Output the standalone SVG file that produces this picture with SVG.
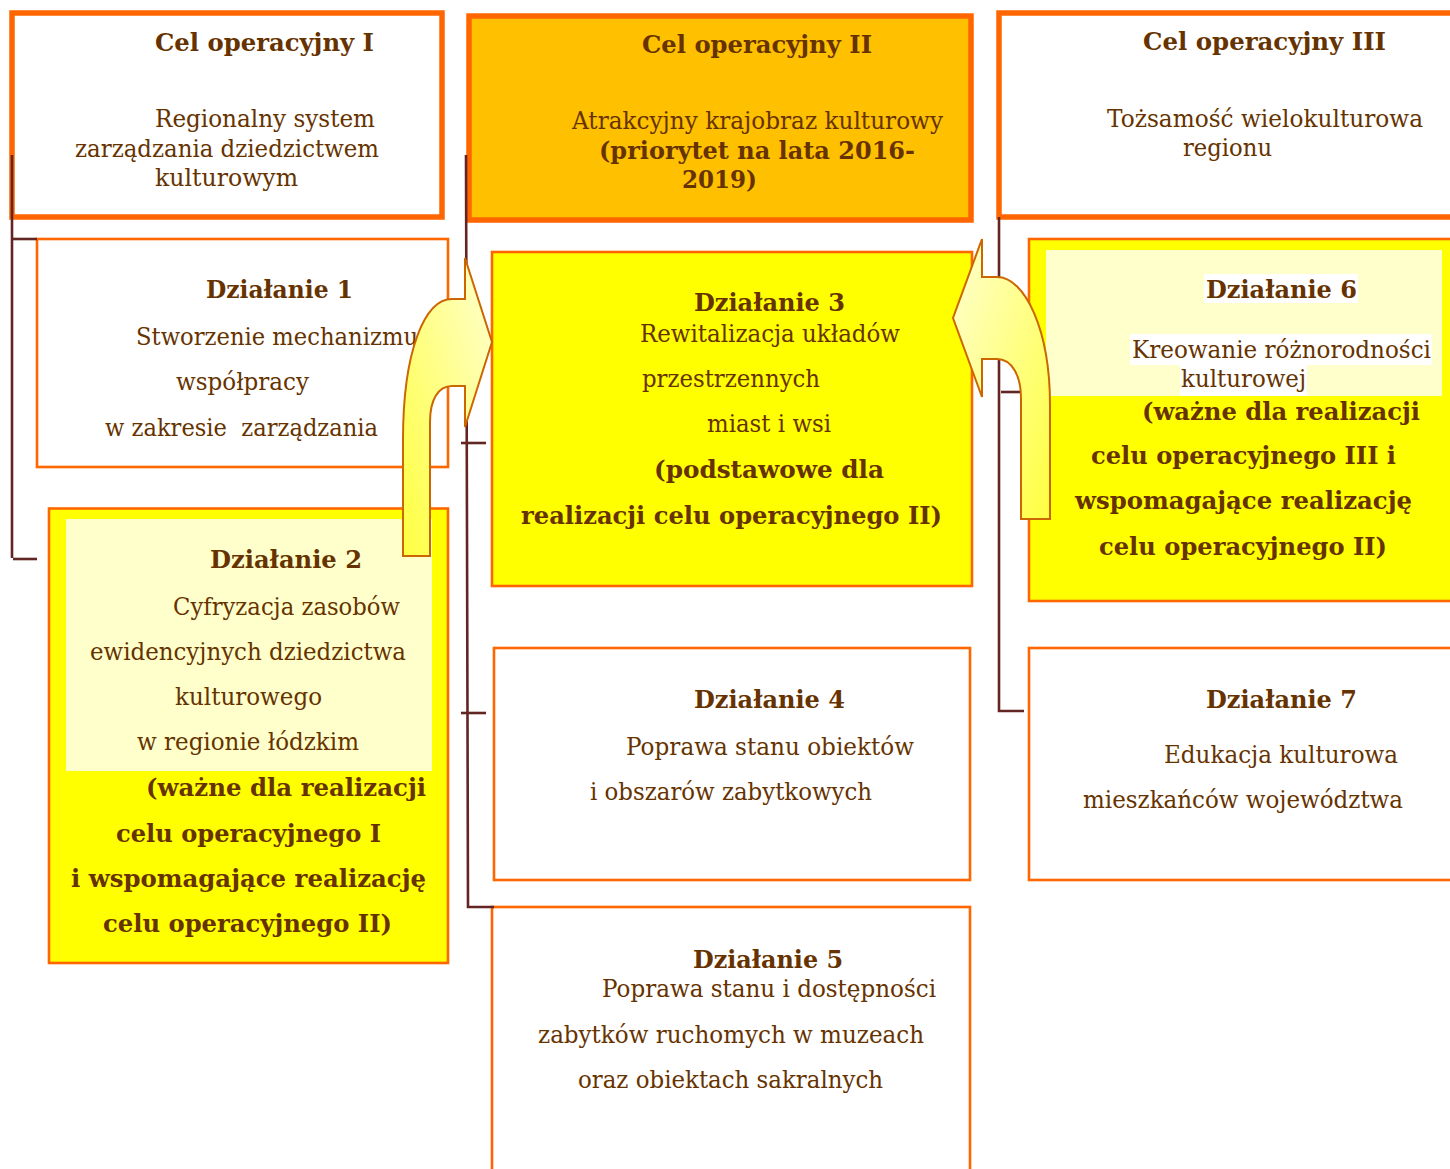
<svg xmlns="http://www.w3.org/2000/svg" width="1450" height="1169" viewBox="0 0 1450 1169">
<style>
.cel{stroke:#FF6600;stroke-width:5.5}
.act{stroke:#FF6600;stroke-width:2.6}
.t{font-family:"DejaVu Serif","Liberation Serif",serif;font-size:24px;fill:#663300}
.b{font-weight:bold}
.con{stroke:#632523;stroke-width:2.6;fill:none}
.arr{stroke:#CC6600;stroke-width:2}
</style>
<defs>
<linearGradient id="gL" x1="0" y1="1" x2="1" y2="0">
<stop offset="0" stop-color="#FFFF40"/>
<stop offset="1" stop-color="#FFFFD0"/>
</linearGradient>
<linearGradient id="gR" x1="1" y1="1" x2="0" y2="0">
<stop offset="0" stop-color="#FFFF40"/>
<stop offset="1" stop-color="#FFFFD0"/>
</linearGradient>
</defs>
<rect width="1450" height="1169" fill="#FFFFFF"/>

<g id="cel1">
<rect class="cel" x="12" y="13" width="430" height="204" fill="#FFFFFF"/>
<text class="t b" x="155" y="51" textLength="219" lengthAdjust="spacingAndGlyphs">Cel operacyjny I</text>
<text class="t" x="155" y="127" textLength="220" lengthAdjust="spacingAndGlyphs">Regionalny system</text>
<text class="t" x="75" y="157" textLength="304" lengthAdjust="spacingAndGlyphs">zarządzania dziedzictwem</text>
<text class="t" x="155" y="186" textLength="143" lengthAdjust="spacingAndGlyphs">kulturowym</text>
</g>

<g id="cel2">
<rect class="cel" x="469" y="16" width="502" height="204" fill="#FFC000"/>
<text class="t b" x="642" y="53" textLength="230" lengthAdjust="spacingAndGlyphs">Cel operacyjny II</text>
<text class="t" x="572" y="129" textLength="371" lengthAdjust="spacingAndGlyphs">Atrakcyjny krajobraz kulturowy</text>
<text class="t b" x="599" y="159" textLength="316" lengthAdjust="spacingAndGlyphs">(priorytet na lata 2016-</text>
<text class="t b" x="682" y="188" textLength="75" lengthAdjust="spacingAndGlyphs">2019)</text>
</g>

<g id="cel3">
<rect class="cel" x="999" y="13" width="470" height="204" fill="#FFFFFF"/>
<text class="t b" x="1143" y="50" textLength="243" lengthAdjust="spacingAndGlyphs">Cel operacyjny III</text>
<text class="t" x="1107" y="127" textLength="316" lengthAdjust="spacingAndGlyphs">Tożsamość wielokulturowa</text>
<text class="t" x="1183" y="156" textLength="89" lengthAdjust="spacingAndGlyphs">regionu</text>
</g>

<g id="dzialanie1">
<rect class="act" x="37" y="239" width="411" height="228" fill="#FFFFFF"/>
<text class="t b" x="206" y="298" textLength="147" lengthAdjust="spacingAndGlyphs">Działanie 1</text>
<text class="t" x="136" y="345" textLength="282" lengthAdjust="spacingAndGlyphs">Stworzenie mechanizmu</text>
<text class="t" x="176" y="390" textLength="133" lengthAdjust="spacingAndGlyphs">współpracy</text>
<text class="t" x="105" y="436" textLength="273" lengthAdjust="spacingAndGlyphs" xml:space="preserve">w zakresie  zarządzania</text>
</g>

<g id="dzialanie2">
<rect class="act" x="49" y="508.5" width="399" height="454.5" fill="#FFFF00"/>
<rect x="66" y="519" width="366" height="252" fill="#FFFFCC"/>
<text class="t b" x="210" y="568" textLength="152" lengthAdjust="spacingAndGlyphs">Działanie 2</text>
<text class="t" x="173" y="615" textLength="227" lengthAdjust="spacingAndGlyphs">Cyfryzacja zasobów</text>
<text class="t" x="90" y="660" textLength="316" lengthAdjust="spacingAndGlyphs">ewidencyjnych dziedzictwa</text>
<text class="t" x="175" y="705" textLength="147" lengthAdjust="spacingAndGlyphs">kulturowego</text>
<text class="t" x="137" y="750" textLength="222" lengthAdjust="spacingAndGlyphs">w regionie łódzkim</text>
<text class="t b" x="146" y="796" textLength="280" lengthAdjust="spacingAndGlyphs">(ważne dla realizacji</text>
<text class="t b" x="116" y="842" textLength="265" lengthAdjust="spacingAndGlyphs">celu operacyjnego I</text>
<text class="t b" x="71" y="887" textLength="355" lengthAdjust="spacingAndGlyphs">i wspomagające realizację</text>
<text class="t b" x="103" y="932" textLength="289" lengthAdjust="spacingAndGlyphs">celu operacyjnego II)</text>
</g>

<g id="dzialanie3">
<rect class="act" x="492" y="252" width="480" height="334" fill="#FFFF00"/>
<text class="t b" x="694" y="311" textLength="151" lengthAdjust="spacingAndGlyphs">Działanie 3</text>
<text class="t" x="640" y="342" textLength="260" lengthAdjust="spacingAndGlyphs">Rewitalizacja układów</text>
<text class="t" x="642" y="387" textLength="178" lengthAdjust="spacingAndGlyphs">przestrzennych</text>
<text class="t" x="707" y="432" textLength="124" lengthAdjust="spacingAndGlyphs">miast i wsi</text>
<text class="t b" x="654" y="478" textLength="230" lengthAdjust="spacingAndGlyphs">(podstawowe dla</text>
<text class="t b" x="521" y="524" textLength="421" lengthAdjust="spacingAndGlyphs">realizacji celu operacyjnego II)</text>
</g>

<g id="dzialanie4">
<rect class="act" x="494" y="648" width="476" height="232" fill="#FFFFFF"/>
<text class="t b" x="694" y="708" textLength="151" lengthAdjust="spacingAndGlyphs">Działanie 4</text>
<text class="t" x="626" y="755" textLength="288" lengthAdjust="spacingAndGlyphs">Poprawa stanu obiektów</text>
<text class="t" x="590" y="800" textLength="282" lengthAdjust="spacingAndGlyphs">i obszarów zabytkowych</text>
</g>

<g id="dzialanie5">
<rect class="act" x="492" y="907" width="478" height="290" fill="#FFFFFF"/>
<text class="t b" x="693" y="968" textLength="150" lengthAdjust="spacingAndGlyphs">Działanie 5</text>
<text class="t" x="602" y="997" textLength="334" lengthAdjust="spacingAndGlyphs">Poprawa stanu i dostępności</text>
<text class="t" x="538" y="1043" textLength="386" lengthAdjust="spacingAndGlyphs">zabytków ruchomych w muzeach</text>
<text class="t" x="578" y="1088" textLength="305" lengthAdjust="spacingAndGlyphs">oraz obiektach sakralnych</text>
</g>

<g id="dzialanie6">
<rect class="act" x="1029" y="239" width="440" height="362" fill="#FFFF00"/>
<rect x="1046" y="250" width="396" height="146" fill="#FFFFCC"/>
<rect x="1204" y="274" width="154" height="29" fill="#FFFFFF"/>
<rect x="1130" y="334" width="302" height="31" fill="#FFFFFF"/>
<rect x="1180" y="365" width="127" height="31" fill="#FFFFFF"/>
<text class="t b" x="1206" y="298" textLength="151" lengthAdjust="spacingAndGlyphs">Działanie 6</text>
<text class="t" x="1132" y="358" textLength="299" lengthAdjust="spacingAndGlyphs">Kreowanie różnorodności</text>
<text class="t" x="1181" y="387" textLength="125" lengthAdjust="spacingAndGlyphs">kulturowej</text>
<text class="t b" x="1142" y="420" textLength="278" lengthAdjust="spacingAndGlyphs">(ważne dla realizacji</text>
<text class="t b" x="1091" y="464" textLength="305" lengthAdjust="spacingAndGlyphs">celu operacyjnego III i</text>
<text class="t b" x="1075" y="509" textLength="337" lengthAdjust="spacingAndGlyphs">wspomagające realizację</text>
<text class="t b" x="1099" y="555" textLength="288" lengthAdjust="spacingAndGlyphs">celu operacyjnego II)</text>
</g>

<g id="dzialanie7">
<rect class="act" x="1029" y="648" width="440" height="232" fill="#FFFFFF"/>
<text class="t b" x="1206" y="708" textLength="151" lengthAdjust="spacingAndGlyphs">Działanie 7</text>
<text class="t" x="1164" y="763" textLength="234" lengthAdjust="spacingAndGlyphs">Edukacja kulturowa</text>
<text class="t" x="1083" y="808" textLength="320" lengthAdjust="spacingAndGlyphs">mieszkańców województwa</text>
</g>

<g id="connectors">
<polyline class="con" points="12,155 12,558"/>
<line class="con" x1="12" y1="239" x2="37" y2="239"/>
<line class="con" x1="13" y1="559" x2="37" y2="559"/>
<polyline class="con" points="466,155 468,907 494,907"/>
<line class="con" x1="461" y1="443" x2="486" y2="443"/>
<line class="con" x1="461" y1="713" x2="486" y2="713"/>
<polyline class="con" points="999,217 999,711 1024,711"/>
<line class="con" x1="1001" y1="392" x2="1020" y2="392"/>
</g>

<g id="arrow-left">
<path class="arr" fill="url(#gL)" d="M403,556 L403,440 C403,350 425,299 452,299 L465,299 L465,258 L492,342 L465,427 L465,386 L452,386 C438,386 430,400 430,422 L430,556 Z"/>
</g>
<g id="arrow-right">
<path class="arr" fill="url(#gR)" d="M1050,519 L1050,405 C1050,330 1025,277 997,277 L982,277 L982,239 L953,318 L982,397 L982,359 L997,359 C1012,359 1021,376 1021,398 L1021,519 Z"/>
</g>
</svg>
